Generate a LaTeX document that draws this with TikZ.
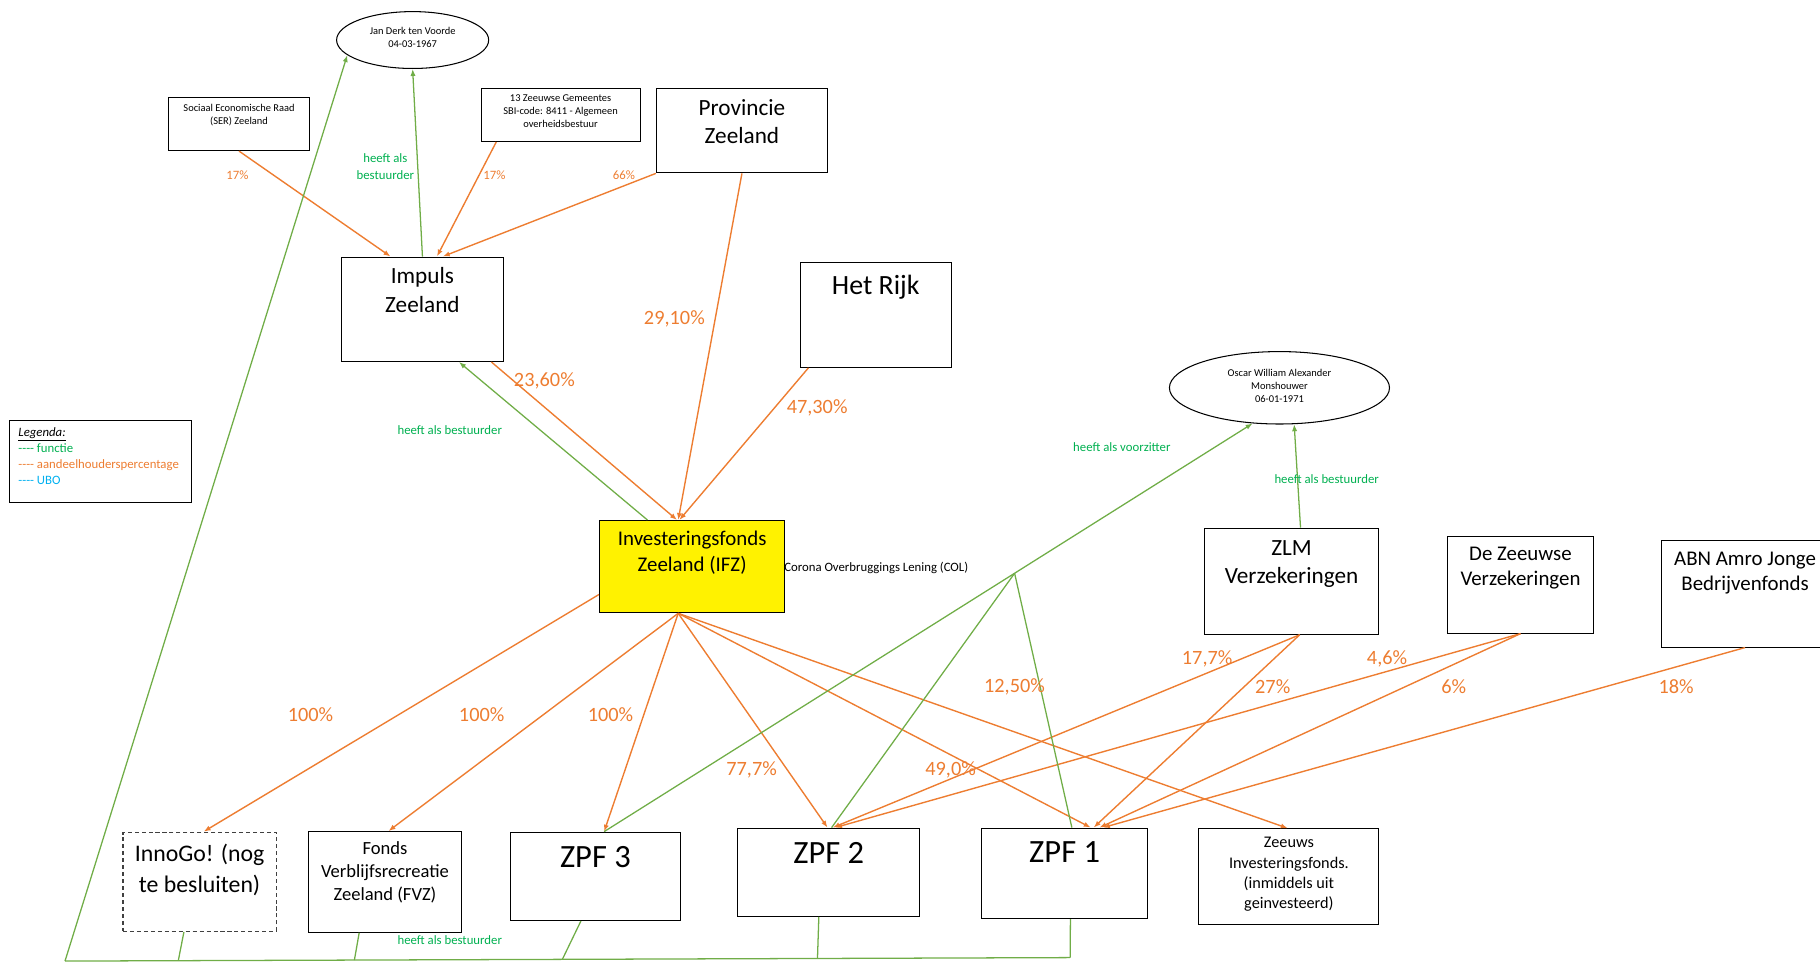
\documentclass[tikz,border=0pt]{standalone}
\usepackage{fontspec}
\setmainfont{Carlito}
\usetikzlibrary{arrows.meta,shapes.geometric,calc}
\definecolor{org}{HTML}{ED7D31}
\definecolor{grl}{HTML}{70AD47}
\definecolor{grt}{HTML}{00B050}
\definecolor{ubo}{HTML}{00B0F0}
\newcommand{\myfs}[2]{\fontsize{#1}{#2}\selectfont}
\newcommand{\mystrut}{\rule{0pt}{0.8em}}
\newcommand{\dsh}{-\kern0pt-\kern0pt-\kern0pt-}
\begin{document}
\begin{tikzpicture}[x=1pt,y=-1pt,
  box/.style={draw=black, line width=0.9pt, inner sep=0pt, anchor=north west},
  oval/.style={draw=black, line width=0.9pt, ellipse, inner sep=0pt},
  txt/.style={anchor=north, inner sep=0pt, align=center, text=black},
  own/.style={draw=org, line width=1.2pt, -{Latex[length=6pt,width=4.5pt]}},
  fun/.style={draw=grl, line width=1.1pt},
  funarr/.style={fun, -{Latex[length=6pt,width=4.5pt]}},
  pct/.style={text=org, inner sep=0pt, font=\myfs{17.5}{21}},
  pcts/.style={text=org, inner sep=0pt, font=\myfs{11}{13}},
  flab/.style={text=grt, inner sep=0pt, align=center, font=\myfs{11}{14.4}},
]
\useasboundingbox (0,0) rectangle (1568,828.8);

% ---------- boxes ----------
\node[oval, minimum width=131pt, minimum height=49pt] (jan) at (355.5,34.5) {};
\node[txt, font=\myfs{9}{10.6}] (janT) at ([yshift=-13pt]jan.north) {\mystrut Jan Derk ten Voorde\\04-03-1967};

\node[box, minimum width=122pt, minimum height=46pt] (ser) at (144.5,83.3) {};
\node[txt, font=\myfs{9}{11.2}] (serT) at ([yshift=-5.1pt]ser.north) {\mystrut Sociaal Economische Raad\\(SER) Zeeland};

\node[box, minimum width=137pt, minimum height=46pt] (gem) at (414,75.5) {};
\node[txt, font=\myfs{9}{11}] (gemT) at ([yshift=-4.9pt]gem.north) {\mystrut 13 Zeeuwse Gemeentes\\SBI-code: 8411 - Algemeen\\overheidsbestuur};

\node[box, minimum width=147.5pt, minimum height=72.5pt] (prov) at (565,76) {};
\node[txt, font=\myfs{20}{24.5}] (provT) at ([yshift=-7pt]prov.north) {\mystrut Provincie\\Zeeland};

\node[box, minimum width=139pt, minimum height=90pt] (imp) at (294,221) {};
\node[txt, font=\myfs{20}{25.4}] (impT) at ([yshift=-7pt]imp.north) {\mystrut Impuls\\Zeeland};

\node[box, minimum width=130pt, minimum height=90pt] (rijk) at (689,226) {};
\node[txt, font=\myfs{24}{29}] (rijkT) at ([yshift=-8.3pt]rijk.north) {\mystrut Het Rijk};

\node[oval, minimum width=189.6pt, minimum height=62.4pt] (osc) at (1102.3,334.1) {};
\node[txt, font=\myfs{9}{11.3}] (oscT) at ([yshift=-14.3pt]osc.north) {\mystrut Oscar William Alexander\\Monshouwer\\06-01-1971};

\node[box, minimum width=156.5pt, minimum height=70.8pt] (leg) at (7.8,361.8) {};
\node[anchor=north west, inner sep=0pt, align=left, font=\myfs{11}{13.6}] (legT) at ([xshift=7.9pt,yshift=-5.4pt]leg.north west)
  {\mystrut\underline{\textit{Legenda:}}\\\textcolor{grt}{\dsh{} functie}\\\textcolor{org}{\dsh{} aandeelhouderspercentage}\\\textcolor{ubo}{\dsh{} UBO}};

\node[box, fill=yellow, minimum width=159.7pt, minimum height=79.5pt] (ifz) at (516,448) {};
\node[txt, font=\myfs{18}{22.5}] (ifzT) at ([yshift=-7.1pt]ifz.north) {\mystrut Investeringsfonds\\Zeeland (IFZ)};
\node[anchor=base west, inner sep=0pt, font=\myfs{11}{13}] (col) at (675.5,492) {Corona Overbruggings Lening (COL)};

\node[box, minimum width=149.5pt, minimum height=91.4pt] (zlm) at (1037.5,454.6) {};
\node[txt, font=\myfs{20}{24}] (zlmT) at ([yshift=-8.1pt]zlm.north) {\mystrut ZLM\\Verzekeringen};

\node[box, minimum width=126pt, minimum height=83.2pt] (dz) at (1246.5,461.8) {};
\node[txt, font=\myfs{18}{21.5}] (dzT) at ([yshift=-6.3pt]dz.north) {\mystrut De Zeeuwse\\Verzekeringen};

\node[box, minimum width=144pt, minimum height=92pt] (abn) at (1431,465) {};
\node[txt, font=\myfs{18}{22}] (abnT) at ([yshift=-7.4pt]abn.north) {\mystrut ABN Amro Jonge\\Bedrijvenfonds};

\node[box, dashed, dash pattern=on 3.5pt off 2.5pt, draw=black!75, minimum width=132pt, minimum height=85.5pt] (inno) at (105.5,716.5) {};
\node[txt, font=\myfs{20.5}{27}] (innoT) at ([yshift=-8.9pt]inno.north) {\mystrut InnoGo! (nog\\te besluiten)};

\node[box, minimum width=132.5pt, minimum height=86.7pt] (fvz) at (265,716) {};
\node[txt, font=\myfs{16}{19.7}] (fvzT) at ([yshift=-7.2pt]fvz.north) {\mystrut Fonds\\Verblijfsrecreatie\\Zeeland (FVZ)};

\node[box, minimum width=147pt, minimum height=76.1pt] (zpf3) at (439,716.5) {};
\node[txt, font=\myfs{28}{33}] (zpf3T) at ([yshift=-8.6pt]zpf3.north) {\mystrut ZPF 3};

\node[box, minimum width=157pt, minimum height=76pt] (zpf2) at (635,713) {};
\node[txt, font=\myfs{28}{33}] (zpf2T) at ([yshift=-8.6pt]zpf2.north) {\mystrut ZPF 2};

\node[box, minimum width=142.5pt, minimum height=78pt] (zpf1) at (845.5,713) {};
\node[txt, font=\myfs{28}{33}] (zpf1T) at ([yshift=-7.6pt]zpf1.north) {\mystrut ZPF 1};

\node[box, minimum width=155pt, minimum height=82.7pt] (zinv) at (1032.5,713.6) {};
\node[txt, font=\myfs{14}{17.4}] (zinvT) at ([yshift=-5.5pt]zinv.north) {\mystrut Zeeuws\\Investeringsfonds.\\(inmiddels uit\\geinvesteerd)};

% ---------- ownership (orange) ----------
\draw[own] (ser.south) -- ([xshift=-27.5pt]imp.north);
\draw[own] ([xshift=13.5pt]gem.south west) -- ([xshift=12.5pt]imp.north);
\draw[own] (prov.south west) -- ([xshift=17.5pt]imp.north);
\draw[own] (prov.south) -- ([xshift=-12pt]ifz.north);
\draw[own] ([xshift=-10.5pt]imp.south east) -- ([xshift=-13pt]ifz.north);
\draw[own] ([xshift=7.5pt]rijk.south west) -- ([xshift=-11pt]ifz.north);
\draw[own] ([yshift=-24pt]ifz.west) -- ([xshift=3.5pt]inno.north);
\draw[own] ([xshift=-12pt]ifz.south) -- ([xshift=3pt]fvz.north);
\draw[own] ([xshift=-12pt]ifz.south) -- ([xshift=7.5pt]zpf3.north);
\draw[own] ([xshift=-12pt]ifz.south) -- ([xshift=-1pt]zpf2.north);
\draw[own] ([xshift=-12pt]ifz.south) -- ([xshift=22.5pt]zpf1.north);
\draw[own] ([xshift=-12pt]ifz.south) -- ([xshift=-1pt]zinv.north);
\draw[own] ([xshift=7pt]zlm.south) -- ([xshift=3.5pt]zpf2.north);
\draw[own] ([xshift=7pt]zlm.south) -- ([xshift=25pt]zpf1.north);
\draw[own] (dz.south) -- ([xshift=5.5pt]zpf2.north);
\draw[own] (dz.south) -- ([xshift=30pt]zpf1.north);
\draw[own] (abn.south) -- ([xshift=33pt]zpf1.north);

% ---------- functions (green) ----------
\draw[funarr] (imp.north) -- (jan.south);
\draw[funarr] ([xshift=-38.5pt]ifz.north) -- ([xshift=31.5pt]imp.south);
\coordinate (bl) at (56,828);
\coordinate (br) at (922,825);
\draw[fun] (bl) -- (br);
\draw[funarr] (bl) -- (jan.193);
\draw[fun] ([xshift=-13.5pt]inno.south) -- ($(bl)!0.1127!(br)$);
\draw[fun] ([xshift=-22.25pt]fvz.south) -- ($(bl)!0.2879!(br)$);
\draw[fun] ([xshift=-12.5pt]zpf3.south) -- ($(bl)!0.4948!(br)$);
\draw[fun] ([xshift=-8.5pt]zpf2.south) -- ($(bl)!0.7486!(br)$);
\draw[fun] ([xshift=5pt]zpf1.south) -- (br);
\coordinate (z3t) at ([xshift=7.5pt]zpf3.north);
\draw[funarr] (z3t) -- (osc.233);
\coordinate (J) at ($(z3t)!0.633!(osc.233)$);
\draw[fun] ([xshift=2.5pt]zpf2.north) -- (J);
\draw[fun] ([xshift=6.25pt]zpf1.north) -- (J);
\draw[funarr] ([xshift=7.75pt]zlm.north) -- (osc.292);

% ---------- labels ----------
\node[pcts] (p1) at (204.5,150.8) {17\%};
\node[flab] (f1) at (332,143.6) {heeft als\\bestuurder};
\node[pcts] (p2) at (426,150.8) {17\%};
\node[pcts] (p3) at (537.6,150.8) {66\%};
\node[pct] (p4) at (581,274.3) {29,10\%};
\node[pct] (p5) at (469,328.3) {23,60\%};
\node[pct] (p6) at (704,351.8) {47,30\%};
\node[flab] (f2) at (387.5,370.5) {heeft als bestuurder};
\node[flab] (f3) at (966.5,384.8) {heeft als voorzitter};
\node[flab] (f4) at (1143,412.7) {heeft als bestuurder};
\node[pct] (p7) at (267.5,615.4) {100\%};
\node[pct] (p8) at (415,615.4) {100\%};
\node[pct] (p9) at (526,615.4) {100\%};
\node[pct] (p10) at (647.5,663.6) {77,7\%};
\node[pct] (p11) at (819,663.6) {49,0\%};
\node[pct] (p12) at (874,591.6) {12,50\%};
\node[pct] (p13) at (1040,567.5) {17,7\%};
\node[pct] (p14) at (1096.5,591.6) {27\%};
\node[pct] (p15) at (1195,567.5) {4,6\%};
\node[pct] (p16) at (1252.5,591.6) {6\%};
\node[pct] (p17) at (1444,591.6) {18\%};
\node[flab] (f5) at (387.5,810) {heeft als bestuurder};
\end{tikzpicture}
\end{document}
